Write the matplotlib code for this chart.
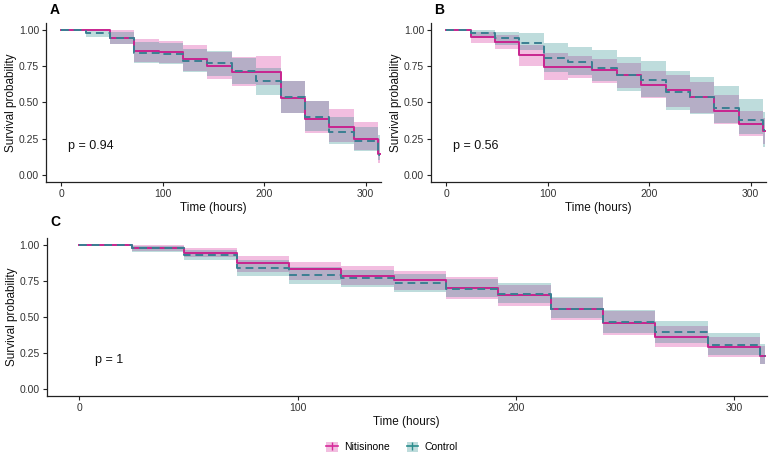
import matplotlib.pyplot as plt
from matplotlib.patches import Patch
from matplotlib.lines import Line2D

plt.rcParams['font.family'] = ['Liberation Sans', 'DejaVu Sans']

# step start times (hours), last step runs to t_end
times = [0, 24, 48, 72, 96, 120, 144, 168, 192, 216, 240, 264, 288, 312]
t_end = 314

# panel A
a_nit = [1, 1, 0.949, 0.856, 0.847, 0.803, 0.752, 0.713, 0.713, 0.528, 0.387, 0.331, 0.25, 0.141]
a_nit_lo = [1, 1, 0.905, 0.78, 0.77, 0.72, 0.66, 0.616, 0.62, 0.424, 0.287, 0.23, 0.17, 0.081]
a_nit_hi = [1, 1, 1.0, 0.94, 0.926, 0.898, 0.85, 0.817, 0.82, 0.65, 0.51, 0.454, 0.368, 0.25]
a_ctl = [1, 0.979, 0.945, 0.845, 0.833, 0.789, 0.771, 0.718, 0.646, 0.539, 0.40, 0.296, 0.234, 0.14]
a_ctl_lo = [1, 0.955, 0.905, 0.775, 0.764, 0.713, 0.68, 0.63, 0.553, 0.43, 0.30, 0.213, 0.162, 0.10]
a_ctl_hi = [1, 1.0, 0.99, 0.92, 0.91, 0.87, 0.856, 0.81, 0.74, 0.65, 0.51, 0.40, 0.33, 0.273]

# panel B
b_nit = [1, 0.954, 0.921, 0.826, 0.745, 0.745, 0.722, 0.688, 0.62, 0.585, 0.537, 0.444, 0.352, 0.30]
b_nit_lo = [1, 0.912, 0.868, 0.752, 0.655, 0.667, 0.637, 0.60, 0.528, 0.47, 0.43, 0.354, 0.268, 0.21]
b_nit_hi = [1, 0.99, 0.97, 0.90, 0.84, 0.82, 0.80, 0.77, 0.72, 0.69, 0.64, 0.55, 0.44, 0.39]
b_ctl = [1, 0.984, 0.949, 0.914, 0.81, 0.778, 0.74, 0.692, 0.653, 0.572, 0.535, 0.465, 0.382, 0.31]
b_ctl_lo = [1, 0.95, 0.90, 0.86, 0.713, 0.69, 0.65, 0.58, 0.54, 0.451, 0.419, 0.36, 0.28, 0.19]
b_ctl_hi = [1, 1.0, 0.99, 0.98, 0.914, 0.887, 0.861, 0.817, 0.787, 0.718, 0.678, 0.613, 0.523, 0.433]

# panel C
c_nit = [1, 0.982, 0.949, 0.873, 0.832, 0.786, 0.758, 0.700, 0.65, 0.555, 0.459, 0.364, 0.29, 0.23]
c_nit_lo = [1, 0.96, 0.915, 0.81, 0.76, 0.72, 0.69, 0.625, 0.578, 0.477, 0.378, 0.293, 0.224, 0.17]
c_nit_hi = [1, 1.0, 0.98, 0.924, 0.885, 0.855, 0.823, 0.776, 0.72, 0.63, 0.54, 0.44, 0.36, 0.30]
c_ctl = [1, 0.977, 0.931, 0.843, 0.79, 0.774, 0.735, 0.696, 0.661, 0.558, 0.465, 0.396, 0.304, 0.23]
c_ctl_lo = [1, 0.954, 0.90, 0.786, 0.73, 0.712, 0.677, 0.636, 0.60, 0.49, 0.39, 0.32, 0.235, 0.17]
c_ctl_hi = [1, 0.995, 0.965, 0.90, 0.85, 0.83, 0.80, 0.765, 0.735, 0.638, 0.55, 0.475, 0.39, 0.309]

p_values = ["p = 0.94", "p = 0.56", "p = 1"]
yticks = [0, 0.25, 0.5, 0.75, 1.0]
ytick_labels = ["0.00", "0.25", "0.50", "0.75", "1.00"]
xticks = [0, 100, 200, 300]

nit_fill = "#d6289a"
ctl_fill = "#2a8c8c"
nit_line = "#c8248f"
ctl_line = "#3a7f92"
txt_col = "#333333"


def ext(v):
    return v + [v[-1]]


def draw_panel(ax, nit, nlo, nhi, ctl, clo, chi, ptxt, ylab_x):
    t = times + [t_end]
    ax.fill_between(t, ext(nlo), ext(nhi), step='post', color=nit_fill, alpha=0.3, lw=0)
    ax.fill_between(t, ext(clo), ext(chi), step='post', color=ctl_fill, alpha=0.3, lw=0)
    ax.step(t, ext(nit), where='post', color=nit_line, lw=1.4)
    ax.step(t, ext(ctl), where='post', color=ctl_line, lw=1.4, dashes=(4, 2.5))
    ax.set_xlim(-15, 315)
    ax.set_ylim(-0.05, 1.05)
    ax.set_yticks(yticks)
    ax.set_yticklabels(ytick_labels)
    ax.set_xticks(xticks)
    ax.tick_params(labelsize=7.5, length=3, width=0.8, pad=2,
                   colors='#222222', labelcolor=txt_col)
    for s in ['top', 'right']:
        ax.spines[s].set_visible(False)
    for s in ['left', 'bottom']:
        ax.spines[s].set_linewidth(0.9)
        ax.spines[s].set_color('#222222')
    ax.set_xlabel("Time (hours)", fontsize=8.5, color='#111111', labelpad=2)
    ax.set_ylabel("Survival probability", fontsize=8.5, color='#111111')
    ax.yaxis.set_label_coords(ylab_x, 0.5)
    ax.text(7, 0.2, ptxt, fontsize=9, color='#111111', va='center', ha='left')


fig = plt.figure(figsize=(7.77, 4.58), dpi=100)
W, H = 777, 458
axA = fig.add_axes([46 / W, 1 - 182 / H, 335 / W, 159 / H])
axB = fig.add_axes([431 / W, 1 - 182 / H, 335 / W, 159 / H])
axC = fig.add_axes([46.7 / W, 1 - 396 / H, 720 / W, 158 / H])

draw_panel(axA, a_nit, a_nit_lo, a_nit_hi, a_ctl, a_ctl_lo, a_ctl_hi, p_values[0], -28.5 / 335)
draw_panel(axB, b_nit, b_nit_lo, b_nit_hi, b_ctl, b_ctl_lo, b_ctl_hi, p_values[1], -28.5 / 335)
draw_panel(axC, c_nit, c_nit_lo, c_nit_hi, c_ctl, c_ctl_lo, c_ctl_hi, p_values[2], -29 / 720)

for letter, lx, ly in [("A", 50, 10), ("B", 434, 10), ("C", 50, 222)]:
    fig.text(lx / W, 1 - ly / H, letter, fontsize=10, fontweight='bold',
             va='center', ha='left')

h_nit = (Patch(facecolor=nit_fill, alpha=0.3, lw=0),
         Line2D([], [], color=nit_fill, lw=1.2, marker='|', markersize=6))
h_ctl = (Patch(facecolor=ctl_fill, alpha=0.3, lw=0),
         Line2D([], [], color=ctl_fill, lw=1.2, marker='|', markersize=6))
fig.legend([h_nit, h_ctl], ["Nitisinone", "Control"], loc='center',
           bbox_to_anchor=(392 / W, 1 - 447 / H), ncol=2, frameon=False,
           fontsize=7.5, handlelength=1.1, handleheight=1.1, columnspacing=1.6,
           handletextpad=0.6)

fig.savefig("out.png", dpi=100)
